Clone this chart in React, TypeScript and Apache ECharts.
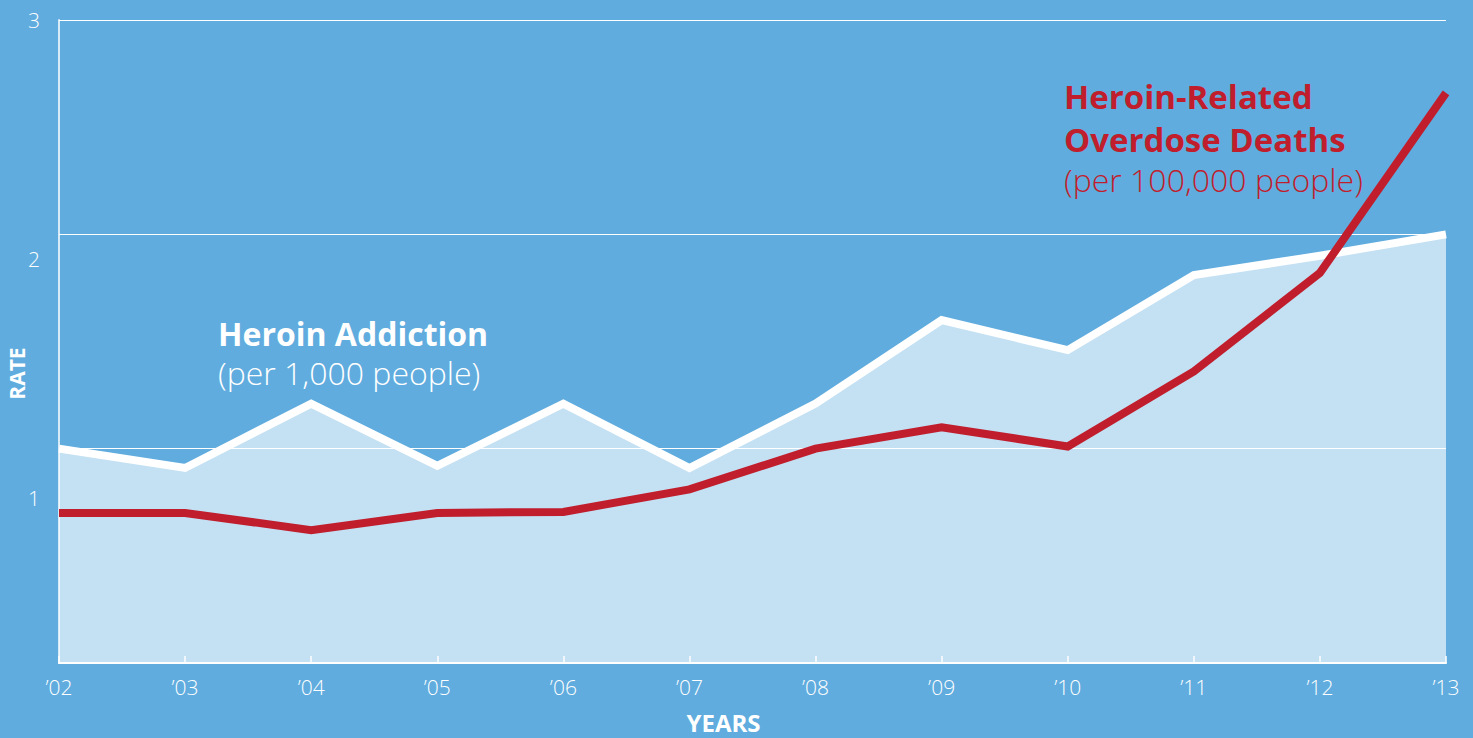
import React, { useEffect, useRef } from "react";
import * as echarts from "echarts";

const years = ["’02", "’03", "’04", "’05", "’06", "’07", "’08", "’09", "’10", "’11", "’12", "’13"];
const addictionRate = [1.0, 0.91, 1.21, 0.92, 1.21, 0.91, 1.21, 1.6, 1.46, 1.81, 1.9, 2.0];
const overdoseRate = [0.7, 0.7, 0.62, 0.7, 0.705, 0.81, 1.0, 1.1, 1.01, 1.36, 1.82, 2.66];
const rateTickLabels = [1, 2, 3];

const BG = "#60acde";
const RED = "#c01e2d";
const FONT = "'Open Sans', 'Noto Sans', sans-serif";

export default function App() {
  const ref = useRef<HTMLDivElement>(null);
  useEffect(() => {
    if (!ref.current) return;
    const chart = echarts.init(ref.current, undefined, { renderer: "svg" });
    chart.setOption({
      animation: false,
      backgroundColor: BG,
      textStyle: { fontFamily: FONT },
      grid: { left: 59, right: 27, top: 20, bottom: 75, outerBoundsMode: "none", containLabel: false },
      xAxis: {
        type: "category",
        data: years,
        boundaryGap: false,
        name: "YEARS",
        nameLocation: "middle",
        nameGap: 47,
        nameTextStyle: {
          color: "#ffffff",
          fontSize: 24,
          fontWeight: "bold",
          fontFamily: FONT,
          padding: [0, 58, 0, 0],
        },
        axisLine: { lineStyle: { color: "#ffffff", width: 2 } },
        axisTick: { inside: true, length: 7, lineStyle: { color: "#ffffff", width: 1.5 } },
        axisLabel: { color: "#ffffff", fontSize: 21, fontWeight: 300, margin: 13, fontFamily: FONT },
        splitLine: { show: false },
      },
      yAxis: [
        {
          type: "value",
          min: 0,
          max: 3,
          interval: 1,
          name: "RATE",
          nameLocation: "middle",
          nameGap: 32,
          nameTextStyle: {
            color: "#ffffff",
            fontSize: 21,
            fontWeight: "bold",
            fontFamily: FONT,
            padding: [0, 64, 0, 0],
          },
          axisLine: { show: true, lineStyle: { color: "rgba(255,255,255,0.75)", width: 2 } },
          axisTick: { show: false },
          axisLabel: { show: false },
          splitLine: { show: true, lineStyle: { color: "#ffffff", width: 1.2 } },
        },
        {
          type: "value",
          position: "left",
          min: 0.31,
          max: 3,
          axisLine: { show: false },
          axisTick: { show: false },
          splitLine: { show: false },
          axisLabel: {
            show: true,
            customValues: rateTickLabels,
            color: "#ffffff",
            fontSize: 21,
            fontWeight: 300,
            margin: 19,
            fontFamily: FONT,
          },
        },
      ],
      series: [
        {
          type: "line",
          name: "Heroin Addiction",
          data: addictionRate,
          yAxisIndex: 0,
          symbol: "none",
          lineStyle: { color: "#ffffff", width: 8, join: "miter" },
          areaStyle: { color: "rgba(255,255,255,0.63)", opacity: 1, origin: "start" },
          z: 2,
        },
        {
          type: "line",
          name: "Heroin-Related Overdose Deaths",
          data: overdoseRate,
          yAxisIndex: 0,
          symbol: "none",
          lineStyle: { color: RED, width: 8, join: "miter" },
          z: 3,
        },
      ],
      graphic: [
        {
          type: "text",
          x: 218,
          y: 333,
          style: { text: "Heroin Addiction", fill: "#ffffff", font: `bold 32px ${FONT}`, verticalAlign: "middle" },
        },
        {
          type: "text",
          x: 218,
          y: 372,
          style: { text: "(per 1,000 people)", fill: "#ffffff", font: `300 32px ${FONT}`, verticalAlign: "middle" },
        },
        {
          type: "text",
          x: 1064,
          y: 96,
          style: { text: "Heroin-Related", fill: RED, font: `bold 33px ${FONT}`, verticalAlign: "middle" },
        },
        {
          type: "text",
          x: 1064,
          y: 139,
          style: { text: "Overdose Deaths", fill: RED, font: `bold 33px ${FONT}`, verticalAlign: "middle" },
        },
        {
          type: "text",
          x: 1064,
          y: 179,
          style: { text: "(per 100,000 people)", fill: RED, font: `300 32px ${FONT}`, verticalAlign: "middle" },
        },
      ],
    });
    return () => chart.dispose();
  }, []);
  return (
    <div
      ref={ref}
      style={{ position: "fixed", left: 0, top: 0, width: 1473, height: 738, background: BG }}
    />
  );
}
